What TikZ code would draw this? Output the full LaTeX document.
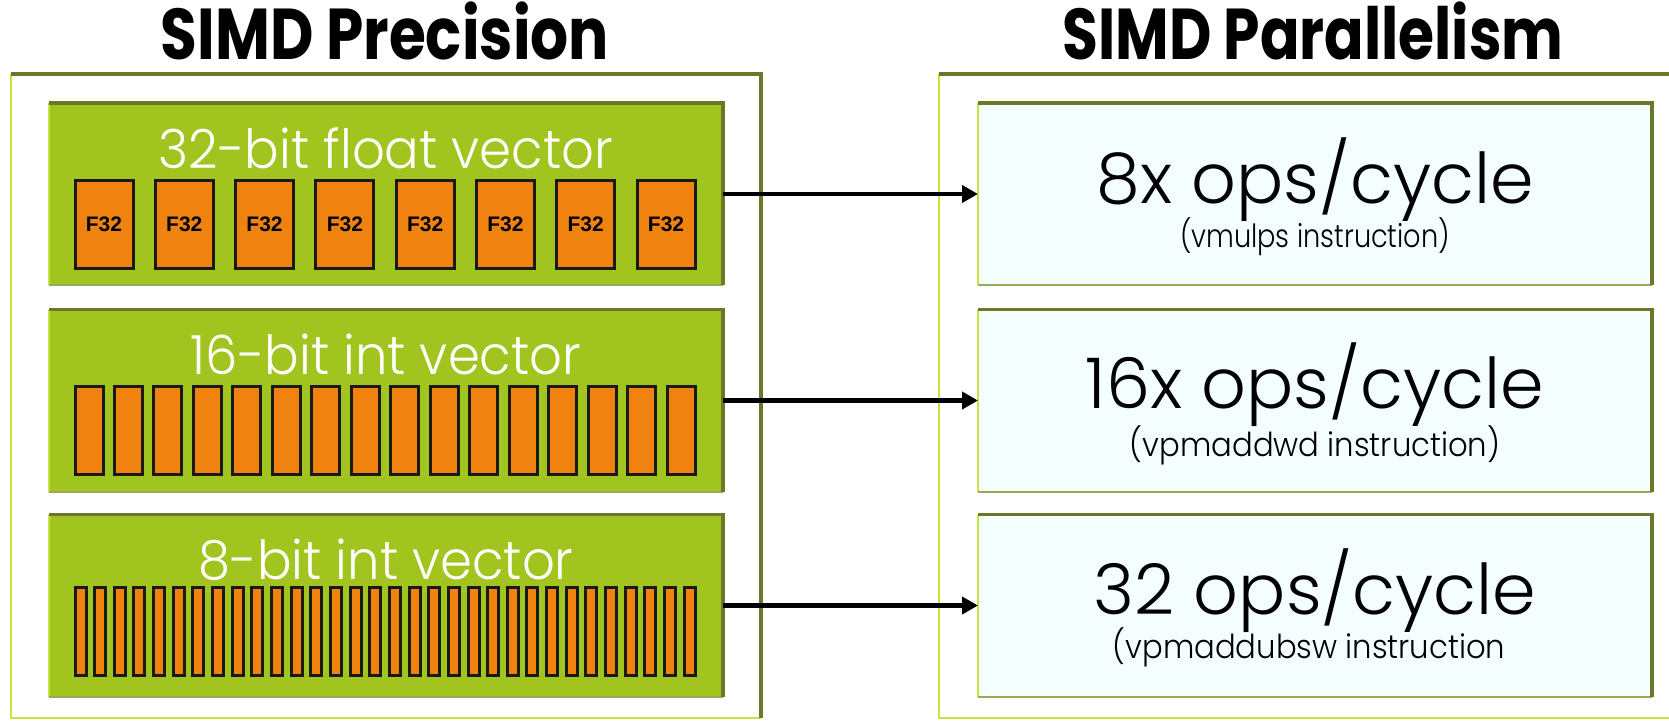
\documentclass[tikz,border=0pt]{standalone}
\usepackage{fontspec}
\setmainfont{Poppins}
\newfontfamily\lightfont{Poppins Light}
\newfontfamily\cellfont{Liberation Sans}
\usetikzlibrary{calc,arrows.meta}
\definecolor{barGreen}{RGB}{162,196,30}
\definecolor{darkOlive}{RGB}{106,120,42}
\definecolor{limeEdge}{RGB}{198,228,58}
\definecolor{softEdge}{RGB}{150,170,90}
\definecolor{cellOrange}{RGB}{240,131,15}
\definecolor{paleBlue}{RGB}{244,253,255}
\tikzset{
  frame/.style={minimum width=#1, minimum height=644, inner sep=0, outer sep=0},
  greenbar/.style={fill=barGreen, minimum width=674, minimum height=182, inner sep=0, outer sep=0},
  resbox/.style={fill=paleBlue, minimum width=674, minimum height=182, inner sep=0, outer sep=0},
  darkedge/.style={draw=darkOlive, line width=3.5},
  lightedge/.style={draw=limeEdge, line width=2.5},
  softedge/.style={draw=softEdge, line width=2},
  cell/.style={draw=black!90, fill=cellOrange, line width=3, inner sep=0, minimum height=88},
  heading/.style={anchor=base, font=\fontsize{72}{72}\selectfont\bfseries},
  bartitle/.style={anchor=base, text=white, font=\lightfont\fontsize{54}{54}\selectfont},
  mainres/.style={anchor=base, text=black, font=\lightfont\fontsize{70}{70}\selectfont},
  subres/.style={anchor=base, text=black, font=\lightfont\fontsize{32}{32}\selectfont},
  subresw/.style={anchor=base, text=black, font=\lightfont\fontsize{33}{33}\selectfont},
  link/.style={draw=black, line width=4.5, -{Triangle[length=16pt,width=17pt]}},
}
\begin{document}
\begin{tikzpicture}[x=1pt,y=-1pt]
\useasboundingbox (0,0) rectangle (1669,721);
\fill[white] (0,0) rectangle (1669,721);

% headings
\node[heading] (h1) at (385,59) {\scalebox{0.83}[1]{SIMD Precision}};
\node[heading] (h2) at (1313,59) {\scalebox{0.81}[1]{SIMD Parallelism}};

% frames
\node[frame=750] (lframe) at (386,396) {};
\node[frame=761] (rframe) at (1319.5,396) {};
\draw[lightedge] (lframe.north west) -- (lframe.south west) -- (lframe.south east);
\draw[darkedge] (lframe.north west) -- (lframe.north east) -- (lframe.south east);
\draw[lightedge] (rframe.north west) -- (rframe.south west) -- (rframe.south east);
\draw[darkedge] (rframe.north west) -- (rframe.north east) -- (rframe.south east);

% green vector bars
\node[greenbar] (bar1) at (386,194) {};
\node[greenbar] (bar2) at (386,400.5) {};
\node[greenbar] (bar3) at (386,605.5) {};
% result boxes
\node[resbox] (box1) at (1315,194) {};
\node[resbox] (box2) at (1315,400.5) {};
\node[resbox] (box3) at (1315,605.5) {};

\foreach \b in {bar1,bar2,bar3,box1,box2,box3}{
  \draw[lightedge] (\b.north west) -- (\b.south west);
  \draw[softedge] (\b.south west) -- (\b.south east);
  \draw[darkedge] (\b.north west) -- (\b.north east) -- (\b.south east);
}

% bar titles
\node[bartitle] (t1) at ($(bar1.north)+(0,65)$) {\scalebox{0.95}[1]{32-bit float vector}};
\node[bartitle] (t2) at ($(bar2.north)+(0,65)$) {\scalebox{0.95}[1]{16-bit int vector}};
\node[bartitle] (t3) at ($(bar3.north)+(0,65)$) {\scalebox{0.95}[1]{8-bit int vector}};

% cells
\foreach \i in {0,...,7}
  \node[cell, minimum width=58, font=\cellfont\bfseries\fontsize{21}{21}\selectfont]
    (f\i) at ($(bar1.north west)+({55+\i*80.29},121)$) {F32};
\foreach \i in {0,...,15}
  \node[cell, minimum width=28] (s\i) at ($(bar2.north west)+({40+\i*39.47},121)$) {};
\foreach \i in {0,...,31}
  \node[cell, minimum width=11] (e\i) at ($(bar3.north west)+({31.5+\i*19.65},117)$) {};

% result texts
\node[mainres] (r1) at ($(box1.north)+(0,100)$) {8x ops/cycle};
\node[subres] (q1) at ($(box1.north)+(0,144)$) {\scalebox{0.85}[1]{(vmulps instruction)}};
\node[mainres] (r2) at ($(box2.north)+(0,99)$) {16x ops/cycle};
\node[subresw] (q2) at ($(box2.north)+(0,147)$) {\scalebox{0.93}[1]{(vpmaddwd instruction)}};
\node[mainres] (r3) at ($(box3.north)+(0,100)$) {32 ops/cycle};
\node[subresw] (q3) at ($(box3.north)+(-6,144)$) {\scalebox{0.93}[1]{(vpmaddubsw instruction}};

% connectors
\draw[link] (bar1.east) -- (box1.west);
\draw[link] (bar2.east) -- (box2.west);
\draw[link] (bar3.east) -- (box3.west);
\end{tikzpicture}
\end{document}
